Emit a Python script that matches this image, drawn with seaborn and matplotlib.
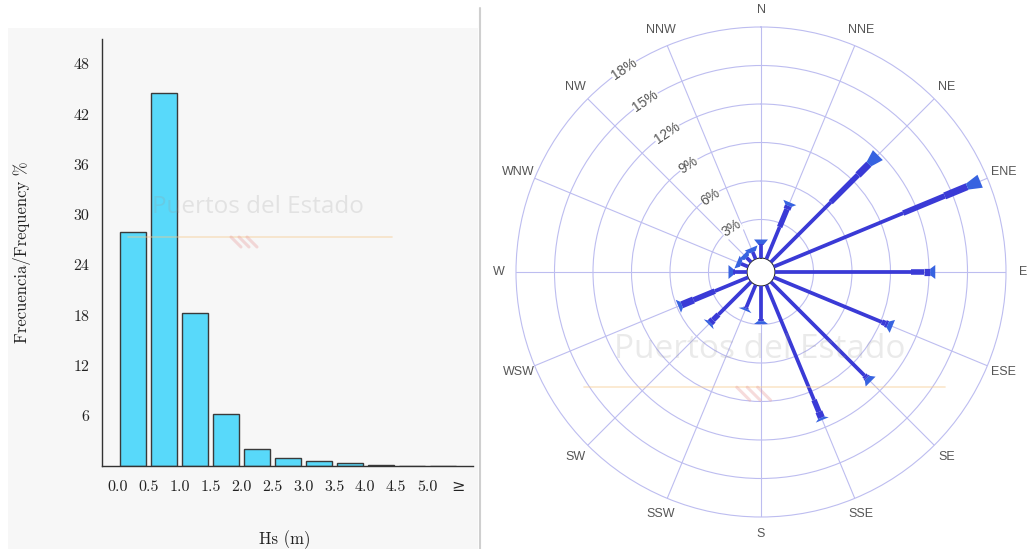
import numpy as np
import matplotlib
matplotlib.use("Agg")
import matplotlib.pyplot as plt
import seaborn as sns
from matplotlib.patches import Rectangle
from matplotlib.lines import Line2D

# ---------------- data ----------------
# Significant wave height histogram (bin edges in m, frequency in %)
hs_edges = [0.0, 0.5, 1.0, 1.5, 2.0, 2.5, 3.0, 3.5, 4.0, 4.5, 5.0, 5.5]
hs_tick_labels = ["0.0", "0.5", "1.0", "1.5", "2.0", "2.5", "3.0", "3.5",
                  "4.0", "4.5", "5.0", "≥"]
hs_freq = [27.95, 44.5, 18.3, 6.17, 2.03, 0.92, 0.64, 0.36, 0.06, 0.05, 0.04]
freq_ticks = [6, 12, 18, 24, 30, 36, 42, 48]

# Directional rose: share (%) per direction, split by Hs class
directions = ["N", "NNE", "NE", "ENE", "E", "ESE", "SE", "SSE",
              "S", "SSW", "SW", "WSW", "W", "WNW", "NW", "NNW"]
hs_low = [1.0, 2.7, 6.6, 10.9, 10.6, 9.1, 10.3, 9.7,
          2.6, 1.9, 3.6, 2.8, 0.9, 0.6, 0.5, 0.6]
hs_mid = [0.1, 1.5, 3.0, 3.5, 1.0, 0.3, 0.2, 1.0,
          0.1, 0.1, 0.6, 1.8, 0.2, 0.0, 0.0, 0.0]
hs_high = [0.0, 0.3, 1.2, 1.9, 0.5, 0.2, 0.1, 0.5,
           0.05, 0.0, 0.3, 1.0, 0.0, 0.0, 0.0, 0.0]
hs_top = [0.4, 0.3, 1.0, 1.1, 0.4, 0.4, 0.4, 0.2,
          0.25, 0.2, 0.2, 0.3, 0.4, 0.4, 0.4, 0.4]
ring_levels = [3, 6, 9, 12, 15, 18]

# ---------------- figure ----------------
sns.set_style("white")
plt.rcParams["font.family"] = ["cmr10", "DejaVu Serif"]
plt.rcParams["axes.formatter.use_mathtext"] = True

W, H = 1032, 549
fig = plt.figure(figsize=(W / 100, H / 100), dpi=100, facecolor="white")

# panel backgrounds and divider
fig.patches.append(Rectangle((8 / W, 0), (478 - 8) / W, (H - 28) / H,
                             transform=fig.transFigure, facecolor="#f7f7f7",
                             edgecolor="none", zorder=-10))
fig.add_artist(Line2D([480 / W, 480 / W], [0, 1 - 8 / H], transform=fig.transFigure,
                      color="#cfcfcf", lw=1.5))

# ---------------- histogram ----------------
ax_h = fig.add_axes([102 / W, 83 / H, 371 / W, 427 / H])
ax_h.set_facecolor("none")
edges = np.array(hs_edges)
centers = edges[:-1] + np.diff(edges) / 2
sns.barplot(x=centers, y=hs_freq, native_scale=True, width=0.84,
            color="#58d9fa", saturation=1, edgecolor="#3a3a3a",
            linewidth=1.0, ax=ax_h, zorder=2)
ax_h.set_xlim(-0.25, 5.74)
ax_h.set_ylim(0, 51)
ax_h.set_xticks(edges)
ax_h.set_xticklabels(hs_tick_labels)
ax_h.set_yticks(freq_ticks)
ax_h.set_yticklabels([str(v) for v in freq_ticks])
for s in ["top", "right"]:
    ax_h.spines[s].set_visible(False)
for s in ["left", "bottom"]:
    ax_h.spines[s].set_color("#333333")
    ax_h.spines[s].set_linewidth(1.0)
ax_h.tick_params(axis="both", direction="out", length=3, width=0.8,
                 color="#333333", labelsize=11.5, labelcolor="#222222")
ax_h.tick_params(axis="x", pad=7)
ax_h.tick_params(axis="y", pad=6)
ax_h.set_ylabel("Frecuencia/Frequency %", fontsize=12, color="#222222")
ax_h.yaxis.label.set_verticalalignment("center")
ax_h.yaxis.set_label_coords((22 - 102) / 371, 0.5)
ax_h.set_xlabel("Hs (m)", fontsize=12, color="#222222")
ax_h.xaxis.label.set_verticalalignment("center")
ax_h.xaxis.set_label_coords((285 - 102) / 371, (466 - 540) / 427)

# ---------------- directional rose ----------------
rorigin = -1.09
rmax = ring_levels[-1]
ax_w = 490 / W
ax_r = fig.add_axes([(761 - 245) / W, (H - 272 - 245) / H, ax_w, 490 / H],
                    projection="polar")
ax_r.set_facecolor("white")
ax_r.set_theta_zero_location("N")
ax_r.set_theta_direction(-1)
ax_r.set_ylim(0, rmax)
ax_r.set_rorigin(rorigin)

theta = np.deg2rad(np.arange(len(directions)) * 360 / len(directions))
ax_r.set_xticks(theta)
ax_r.set_xticklabels([])
ax_r.set_yticks(ring_levels[:-1])
ax_r.set_yticklabels([])
grid_col = "#bdbdf0"
ax_r.grid(True, color=grid_col, lw=0.8)
ax_r.spines["polar"].set_color(grid_col)
ax_r.spines["polar"].set_linewidth(0.8)
ax_r.spines["inner"].set_visible(False)
ax_r.tick_params(length=0)

# pixels per percent along the radius
px_per_unit = (ax_w * W / 2) / (rmax - rorigin)

bar_col = "#3a3ad6"
cap_col = "#3763e0"
low = np.array(hs_low)
mid = np.array(hs_mid)
high = np.array(hs_high)
top = np.array(hs_top)
starts = [np.zeros_like(low), low, low + mid, low + mid + high]
segments = [low, mid, high]
widths = [2.7, 4.0, 5.2]
for base, seg, lw in zip(starts[:3], segments, widths):
    for t, b, v in zip(theta, base, seg):
        if v > 0:
            ax_r.plot([t, t], [b, b + v], color=bar_col, lw=lw,
                      solid_capstyle="butt", zorder=3)

# flared cap for the highest class
for t, b, v in zip(theta, starts[3], top):
    r0, r1 = b, b + v
    hw0, hw1 = 3.2, 7.0
    d0 = hw0 / ((r0 - rorigin) * px_per_unit)
    d1 = hw1 / ((r1 - rorigin) * px_per_unit)
    ax_r.fill([t - d0, t - d1, t + d1, t + d0], [r0, r1, r1, r0],
              color=cap_col, lw=0, zorder=4)

# compass labels
label_r = rmax + 1.35
for t, name in zip(theta, directions):
    ax_r.text(t, label_r, name, ha="center", va="center", fontsize=9,
              color="#555555", family="Liberation Sans", clip_on=False)

# ring labels
lab_theta = np.deg2rad(360 - 34)
for lv in ring_levels:
    ax_r.text(lab_theta, lv, f"{lv}%", rotation=34, ha="center", va="center",
              fontsize=10, color="#555555", family="Liberation Sans",
              rotation_mode="anchor", zorder=5,
              bbox=dict(facecolor="white", edgecolor="none", pad=0.3))

# ---------------- watermarks ----------------
fig.text(258 / W, 1 - 207 / H, "Puertos del Estado", ha="center", va="center",
         fontsize=17.5, color="#9a9a9a", alpha=0.22, family="Open Sans", zorder=6)
fig.add_artist(Line2D([128 / W, 392 / W], [1 - 237 / H, 1 - 237 / H],
                      transform=fig.transFigure, color="#f6c98a", alpha=0.45, lw=1.2, zorder=5))
fig.text(760 / W, 1 - 350 / H, "Puertos del Estado", ha="center", va="center",
         fontsize=24, color="#9a9a9a", alpha=0.2, family="Open Sans", zorder=6)
fig.add_artist(Line2D([584 / W, 945 / W], [1 - 387 / H, 1 - 387 / H],
                      transform=fig.transFigure, color="#f6c98a", alpha=0.45, lw=1.2, zorder=5))
for cx, cy, sc in [(245, 243, 1.0), (755, 395, 1.3)]:
    for k in range(3):
        x0 = (cx - 14 * sc + k * 8 * sc)
        fig.add_artist(Line2D([x0 / W, (x0 + 10 * sc) / W],
                              [1 - (cy - 6 * sc) / H, 1 - (cy + 4 * sc) / H],
                              transform=fig.transFigure, color="#e89a9a",
                              alpha=0.35, lw=2.2, zorder=5))

fig.savefig("out.png", dpi=100, facecolor=fig.get_facecolor())
